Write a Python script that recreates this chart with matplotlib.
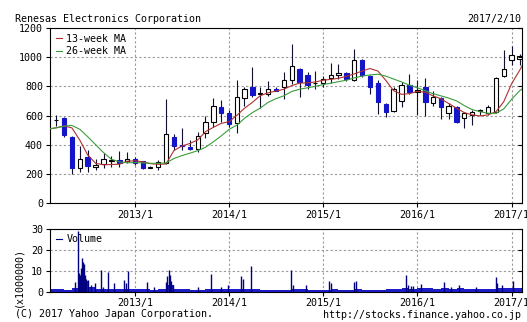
import numpy as np
import pandas as pd
import matplotlib
matplotlib.use('Agg')
import matplotlib.pyplot as plt
import matplotlib.dates as mdates

plt.rcParams['font.family'] = ['DejaVu Sans Mono']
plt.rcParams['font.size'] = 7.2

# 月足 2012/3 - 2017/2
months = pd.date_range('2012-03-01', '2017-02-01', freq='MS')
opens = [570, 580, 455, 240, 315, 245, 265, 285, 295, 285,
         305, 285, 243, 245, 275, 455, 395, 387, 368, 480, 558, 660,
         615, 546, 723, 794, 745, 750, 785, 796, 841, 921, 876, 820,
         820, 855, 876, 892, 841, 983, 870, 824, 680, 633, 702, 808,
         758, 793, 684, 718, 620, 656, 581, 604, 630, 615, 626, 869,
         980, 985]
highs = [605, 590, 460, 390, 365, 305, 340, 325, 355, 352,
         315, 290, 255, 295, 710, 472, 515, 432, 490, 598, 718, 706,
         640, 842, 795, 933, 795, 836, 797, 898, 1088, 925, 900, 905,
         870, 963, 955, 900, 1055, 990, 875, 842, 685, 797, 831, 888,
         842, 855, 765, 730, 685, 665, 626, 640, 645, 670, 865, 1047,
         1080, 1025]
lows = [525, 450, 200, 215, 210, 225, 240, 250, 248, 272,
        262, 235, 238, 225, 265, 365, 365, 362, 352, 445, 520, 558,
        520, 482, 665, 730, 650, 737, 765, 714, 819, 728, 779, 780,
        797, 820, 850, 838, 835, 865, 750, 612, 592, 625, 660, 750,
        605, 597, 665, 575, 575, 550, 512, 535, 605, 605, 615, 865,
        944, 945]
closes = [572, 465, 240, 305, 255, 262, 300, 295, 272, 300,
          272, 240, 245, 282, 472, 392, 388, 370, 462, 558, 665, 615,
          543, 727, 785, 742, 752, 785, 770, 842, 937, 830, 812, 825,
          852, 875, 892, 850, 983, 876, 797, 690, 626, 779, 808, 763,
          778, 695, 729, 656, 665, 558, 615, 626, 635, 660, 854, 922,
          1013, 1010]

# 移動平均線
ma_dates = pd.to_datetime(['2012-02-06'] + [d.strftime('%Y-%m-%d') for d in months] + ['2017-02-10'])
ma13 = [508, 516, 528, 515, 430, 330, 272, 262, 264, 266, 286,
        290, 282, 270, 265, 268, 360, 390, 408, 432, 489, 519, 546,
        558, 603, 649, 690, 735, 756, 767, 780, 805, 822, 824, 830,
        842, 848, 855, 869, 885, 905, 922, 905, 840, 770, 745, 750,
        765, 760, 735, 715, 683, 650, 620, 604, 597, 604, 626, 694,
        819, 910, 940]
ma26 = [510, 515, 527, 532, 505, 455, 400, 345, 300, 282, 276,
        277, 275, 272, 272, 275, 305, 325, 341, 359, 382, 420, 460,
        505, 535, 580, 620, 650, 690, 715, 735, 765, 780, 790, 800,
        812, 822, 832, 842, 858, 870, 878, 883, 870, 850, 830, 808,
        790, 770, 750, 735, 720, 700, 668, 640, 626, 615, 615, 645,
        712, 770, 782]

# 出来高 (x1000000)
vol_months = pd.date_range('2012-02-01', '2017-02-01', freq='MS')
vol_base = [1.0, 1.0, 0.9, 1.7, 5.0, 2.0, 1.2, 1.2, 1.1, 1.2, 1.2,
            1.0, 1.0, 0.9, 1.0, 3.0, 1.4, 1.1, 0.9, 0.9, 1.1, 1.2, 1.2,
            1.1, 1.4, 1.2, 1.0, 0.8, 0.8, 0.8, 0.8, 1.1, 1.0, 0.8, 0.8,
            0.8, 1.0, 0.8, 0.8, 1.1, 0.8, 0.8, 0.9, 1.0, 1.0, 1.5, 1.4,
            1.6, 1.5, 1.4, 1.5, 1.4, 1.5, 1.3, 1.2, 1.1, 1.1, 1.8, 1.6,
            1.7, 1.5]
spike_dates = pd.to_datetime([
    '2012-05-12', '2012-05-24', '2012-05-28', '2012-06-01', '2012-06-05', '2012-06-08',
    '2012-06-12', '2012-06-15', '2012-06-19', '2012-06-23', '2012-07-02', '2012-07-15',
    '2012-07-28', '2012-08-22', '2012-08-29', '2012-09-17', '2012-10-13', '2012-11-21',
    '2012-11-27', '2012-12-04', '2013-02-16', '2013-03-17', '2013-04-30', '2013-05-05',
    '2013-05-11', '2013-05-16', '2013-05-22', '2013-05-27', '2013-09-01', '2013-10-22',
    '2013-11-29', '2013-12-26', '2014-02-16', '2014-02-22', '2014-03-28', '2014-08-30',
    '2014-09-04', '2014-10-27', '2015-01-25', '2015-02-01', '2015-05-02', '2015-05-09',
    '2015-11-18', '2015-11-24', '2015-12-07', '2015-12-17', '2016-01-15', '2016-04-14',
    '2016-05-10', '2016-06-11', '2016-08-14', '2016-10-31', '2016-11-06', '2016-11-26',
    '2017-01-05'])
spike_vals = [4.5, 29, 9, 8, 11, 16,
              14, 13, 8, 6, 5.3, 3,
              4, 10.5, 2, 9.3, 4, 5.5,
              4, 10, 4.5, 2, 4.5, 7.5,
              10.5, 8, 5, 3, 2, 8.5,
              2, 3, 7.5, 6, 12, 10.3,
              3, 3, 5, 4, 4.5, 5,
              8, 3, 2.5, 2.5, 3.5, 4.5,
              2, 3, 2, 7, 4, 3,
              5]

year_ticks = pd.to_datetime(['2013-01-01', '2014-01-01', '2015-01-01', '2016-01-01', '2017-01-01'])
year_labels = ['2013/1', '2014/1', '2015/1', '2016/1', '2017/1']

x0 = mdates.date2num(pd.Timestamp('2012-02-06'))
x1 = mdates.date2num(pd.Timestamp('2017-02-10'))
grid_kw = dict(color='#999999', linestyle=(0, (2, 2)), linewidth=0.8)

fig = plt.figure(figsize=(5.27, 3.22), dpi=100)
ax = fig.add_axes([50/527, 1-203/322, 472/527, 175/322])
ax2 = fig.add_axes([50/527, 1-291.5/322, 472/527, 62.8/322])

# ローソク足
mx = mdates.date2num(months)
o = np.array(opens); c = np.array(closes)
up = c >= o
ax.vlines(mx, lows, highs, color='#101030', linewidth=0.8, zorder=2)
ax.bar(mx[up], c[up]-o[up], bottom=o[up], width=17, color='white',
       edgecolor='black', linewidth=0.8, zorder=3)
ax.bar(mx[~up], o[~up]-c[~up], bottom=c[~up], width=17, color='#1414c8',
       edgecolor='#1414c8', linewidth=0.8, zorder=3)

ax.plot(mdates.date2num(ma_dates), ma13, color='#b03030', lw=0.8, zorder=4, label='13-week MA')
ax.plot(mdates.date2num(ma_dates), ma26, color='#3c9c3c', lw=0.8, zorder=4, label='26-week MA')
ax.legend(loc='upper left', frameon=False, handlelength=0.6, handletextpad=0.5,
          labelspacing=0.25, borderaxespad=0.25, borderpad=0.3, fontsize=7.2)

ax.set_xlim(x0, x1)
ax.set_ylim(0, 1200)
ax.set_yticks(range(0, 1201, 200))
ax.set_xticks(mdates.date2num(year_ticks))
ax.set_xticklabels(year_labels)
ax.grid(True, **grid_kw)
ax.tick_params(axis='both', direction='out', length=3, width=0.8, pad=2)

# 出来高
vx = mdates.date2num(vol_months)
ax2.bar(vx, vol_base, width=np.array(vol_months.days_in_month), align='edge',
        color='#1c1cc8', linewidth=0, zorder=2)
ax2.vlines(mdates.date2num(spike_dates), 0, spike_vals, color='#000080', linewidth=1, zorder=3)
ax2.plot([], [], color='#000080', lw=0.8, label='Volume')
ax2.legend(loc='upper left', frameon=False, handlelength=0.6, handletextpad=0.5,
           borderaxespad=0.25, borderpad=0.3, fontsize=7.2)
ax2.set_xlim(x0, x1)
ax2.set_ylim(0, 30)
ax2.set_yticks([0, 10, 20, 30])
ax2.set_xticks(mdates.date2num(year_ticks))
ax2.set_xticklabels(year_labels)
ax2.grid(True, **grid_kw)
ax2.tick_params(axis='both', direction='out', length=3, width=0.8, pad=2)

for a, ticks in ((ax, range(0, 1201, 200)), (ax2, [0, 10, 20, 30])):
    for s in a.spines.values():
        s.set_linewidth(0.8)
    ar = a.twinx()
    ar.set_ylim(a.get_ylim())
    ar.set_yticks(list(ticks))
    ar.tick_params(direction='in', length=3, width=0.8, labelright=False)
    ar.spines[:].set_visible(False)

fig.text(15/527, 1-19/322, 'Renesas Electronics Corporation', ha='left', va='center')
fig.text(521/527, 1-19/322, '2017/2/10', ha='right', va='center')
fig.text(18/527, 1-277/322, '(x1000000)', rotation=90, ha='center', va='center')
fig.text(15/527, 1-314/322, '(C) 2017 Yahoo Japan Corporation.', ha='left', va='center')
fig.text(521/527, 1-315/322, 'http://stocks.finance.yahoo.co.jp', ha='right', va='center')

fig.savefig('out.png', dpi=100)
